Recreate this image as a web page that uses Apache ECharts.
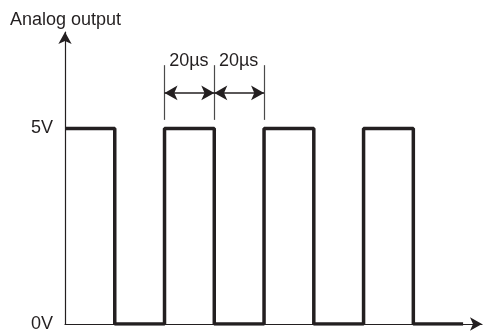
<!DOCTYPE html>
<html>
<head>
<meta charset="utf-8">
<script src="https://cdn.jsdelivr.net/npm/echarts@6/dist/echarts.min.js"></script>
<style>
    html, body { margin: 0; padding: 0; background: #fff; }
    #main { width: 484px; height: 336px; }
</style>
</head>
<body>
<div id="main"></div>
<script>
// square wave: time (µs) and level (V), step at each time
var times = [0, 20, 40, 60, 80, 100, 120, 140, 160];
var levels = [5, 0, 5, 0, 5, 0, 5, 0, 0];
var yTicks = [0, 5];
// period annotation: marker times and labels
var markTimes = [40, 60, 80];
var markLabels = ['20µs', '20µs'];

var ink = '#231f20';

function initChart() {
    var myChart = echarts.init(document.getElementById('main'));

    var wave = times.map(function (t, i) { return [t, levels[i]]; });

    // vertical markers + double arrows, in data coords
    var markData = [];
    markTimes.forEach(function (t) {
        markData.push([
            {coord: [t, 5.22], symbol: 'none', lineStyle: {color: '#4a4a4a', width: 1.2}},
            {coord: [t, 6.62], symbol: 'none'}
        ]);
    });
    for (var i = 0; i < markTimes.length - 1; i++) {
        markData.push([
            {coord: [markTimes[i], 5.91], symbol: 'arrow', lineStyle: {color: ink, width: 1.6}},
            {coord: [markTimes[i + 1], 5.91], symbol: 'arrow'}
        ]);
    }

    // labels above the arrows
    var labelData = [];
    for (var j = 0; j < markLabels.length; j++) {
        labelData.push({
            coord: [(markTimes[j] + markTimes[j + 1]) / 2, 6.7],
            label: {formatter: markLabels[j]}
        });
    }

    option = {
        animation: false,
        title: {
            text: 'Analog output',
            left: 5,
            top: 6,
            textStyle: {
                fontFamily: 'Liberation Sans',
                fontSize: 18,
                fontWeight: 'normal',
                color: ink
            }
        },
        grid: {left: 65, right: 2, top: 32, bottom: 12},
        xAxis: {
            type: 'value',
            min: 0,
            max: 167.6,
            axisLine: {
                lineStyle: {color: ink, width: 1.2},
                symbol: ['none', 'arrow'],
                symbolSize: [10, 12]
            },
            axisTick: {show: false},
            axisLabel: {show: false},
            splitLine: {show: false}
        },
        yAxis: {
            type: 'value',
            min: 0,
            max: 7.468,
            interval: 5,
            axisLine: {
                show: true,
                lineStyle: {color: ink, width: 1.2},
                symbol: ['none', 'arrow'],
                symbolSize: [10, 12]
            },
            axisTick: {show: false},
            splitLine: {show: false},
            axisLabel: {
                showMaxLabel: false,
                margin: 12,
                fontFamily: 'Liberation Sans',
                fontSize: 18,
                color: ink,
                formatter: function (v) {
                    return yTicks.indexOf(v) >= 0 ? v + 'V' : '';
                }
            }
        },
        series: [
            {
                type: 'line',
                step: 'end',
                data: wave,
                symbol: 'none',
                lineStyle: {color: ink, width: 3.5},
                markLine: {
                    silent: true,
                    symbolSize: [11, 13],
                    label: {show: false},
                    lineStyle: {type: 'solid', color: ink},
                    data: markData
                },
                markPoint: {
                    silent: true,
                    symbol: 'circle',
                    symbolSize: 1,
                    itemStyle: {color: 'rgba(0,0,0,0)'},
                    label: {
                        show: true,
                        position: [0, 0],
                        align: 'center',
                        verticalAlign: 'middle',
                        fontFamily: 'Liberation Sans',
                        fontSize: 18,
                        color: ink
                    },
                    data: labelData
                }
            }
        ]
    };
    myChart.setOption(option);
}

initChart();
</script>
</body>
</html>
